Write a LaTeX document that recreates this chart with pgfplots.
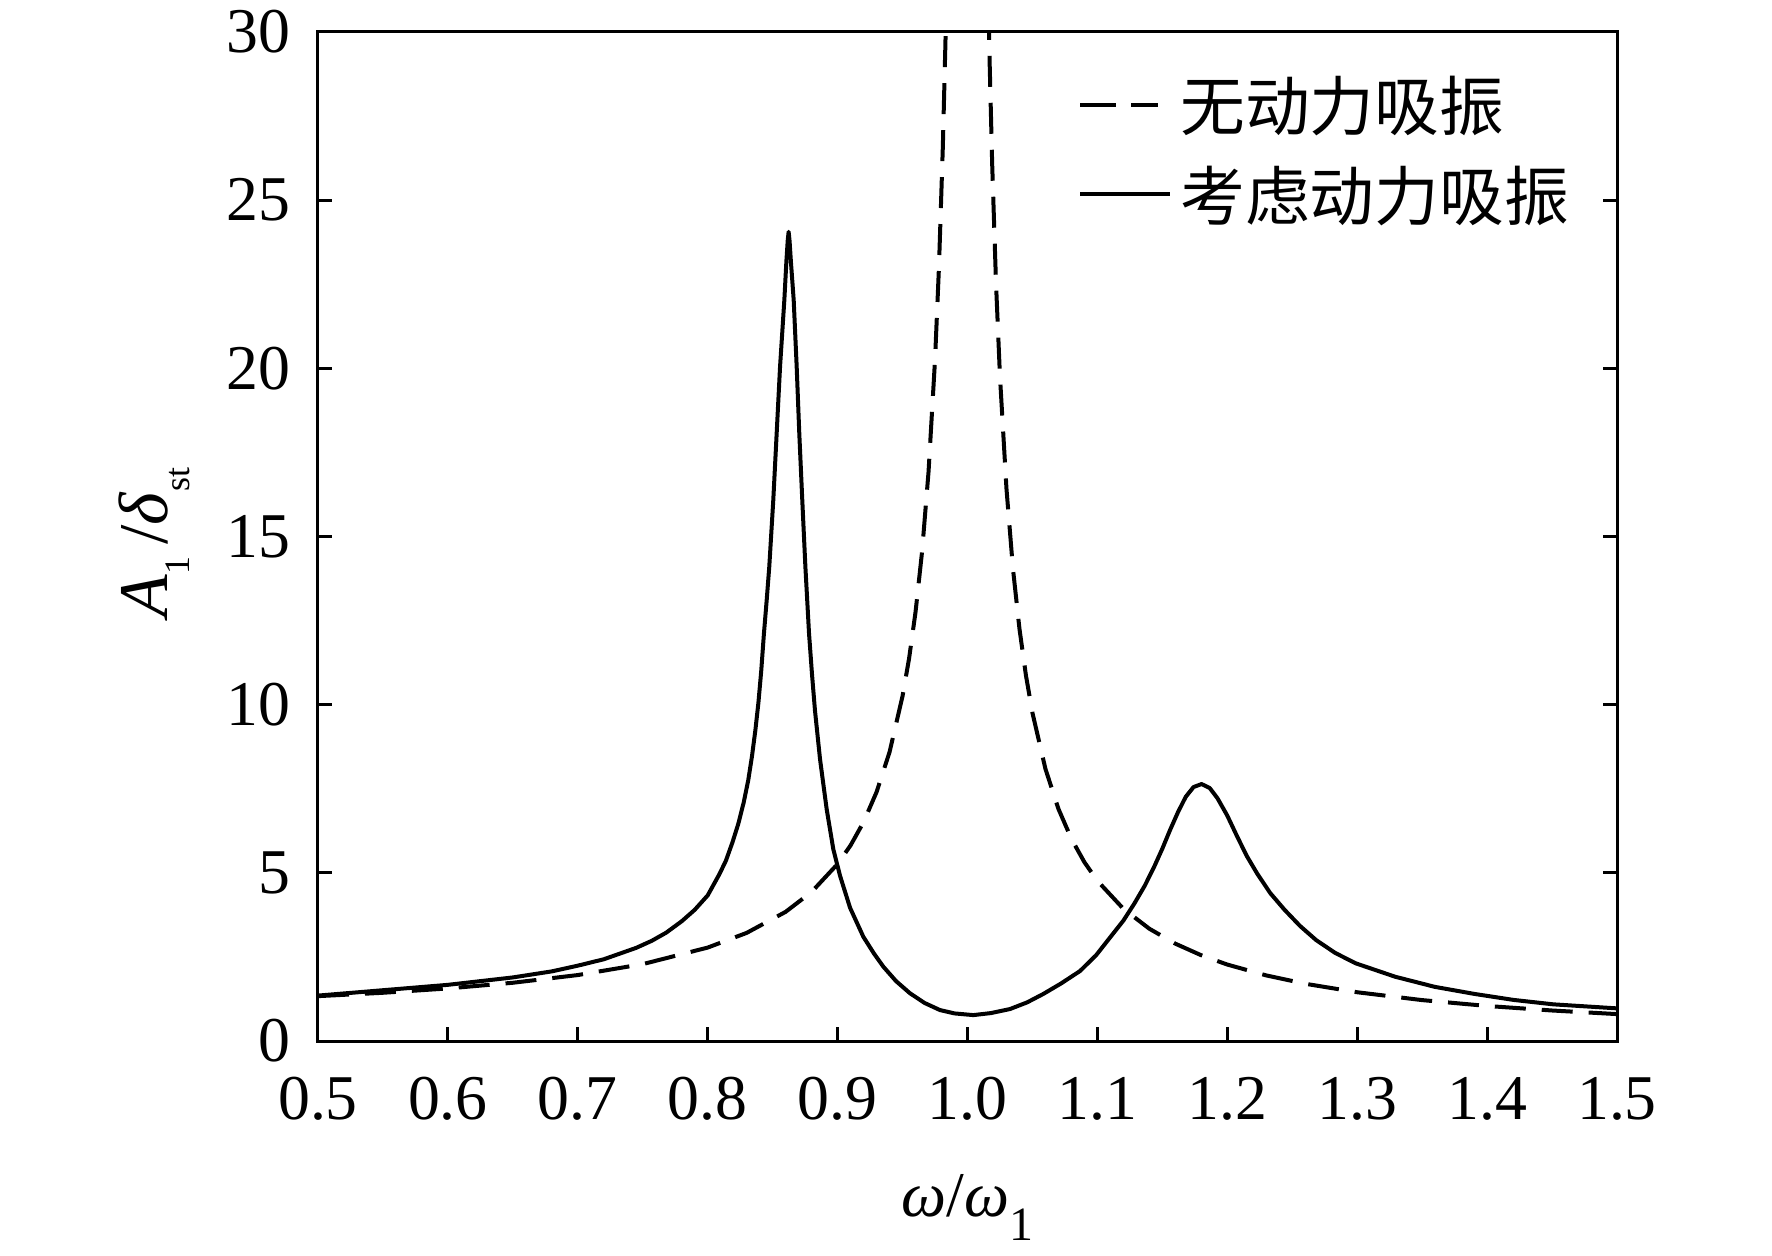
\documentclass[border=0pt]{standalone}
\usepackage{fontspec}
\setmainfont{Liberation Serif}
\newfontfamily\cjk{Noto Sans CJK SC}
\usepackage{pgfplots}
\pgfplotsset{compat=1.18}
\pgfplotsset{
  dashleg/.style={legend image code/.code={\draw[black,line width=2bp,dash pattern=on 18bp off 7.5bp] (0bp,0bp) -- (39bp,0bp);}},
  solidleg/.style={legend image code/.code={\draw[black,line width=2bp] (0bp,0bp) -- (45bp,0bp);}},
}
\begin{document}
\begin{tikzpicture}
\useasboundingbox (-159bp,-107.5bp) rectangle (727bp,520.5bp);
\begin{axis}[
  width=649.5bp, height=504.5bp, scale only axis,
  xmin=0.5, xmax=1.5, ymin=0, ymax=30,
  axis line style={line width=1.5bp},
  xtick={0.5,0.6,0.7,0.8,0.9,1.0,1.1,1.2,1.3,1.4,1.5},
  xticklabels={0.5,0.6,0.7,0.8,0.9,1.0,1.1,1.2,1.3,1.4,1.5},
  ytick={0,5,10,15,20,25,30},
  yticklabels={0,5,10,15,20,25,30},
  tick align=inside, xtick pos=bottom, ytick pos=both,
  major tick length=7bp,
  every tick/.style={black, line width=1.5bp},
  tick label style={font=\fontsize{32}{38}\selectfont},
  xticklabel style={anchor=north, inner sep=0pt, yshift=-18bp},
  yticklabel style={anchor=east, inner sep=0pt, xshift=-13.5bp},
  xlabel={\textit{ω}/\textit{ω}\raisebox{-12bp}{\fontsize{24}{26}\selectfont 1}},
  xlabel style={at={(axis description cs:0.5,0)}, anchor=base, yshift=-87.5bp, inner sep=0pt, font=\fontsize{32}{38}\selectfont},
  ylabel={\textit{A}\raisebox{-11bp}{\fontsize{18}{20}\selectfont 1}\,/\textit{δ}\raisebox{-11bp}{\fontsize{18}{20}\selectfont st}},
  ylabel style={at={(axis description cs:0,0.5)}, anchor=base, xshift=-3bp, yshift=75bp, inner sep=0pt, font=\fontsize{35}{41}\selectfont},
  legend style={at={(axis description cs:0.5851,0.9564)}, anchor=north west, draw=none, fill=none, inner sep=0pt, row sep=16bp, column sep=4bp, font=\cjk\fontsize{32.5}{34}\selectfont, nodes={inner sep=0pt}},
  legend cell align=left,
]
\addplot[black, line width=2bp, dash pattern=on 15.5bp off 8bp, line join=round, dashleg]
coordinates {
(0.50,1.3333)(0.55,1.4337)(0.60,1.5625)(0.65,1.7316)(0.70,1.9608)(0.75,2.2857)
(0.80,2.7778)(0.83,3.2144)(0.86,3.8402)(0.88,4.4326)(0.90,5.2632)(0.91,5.8173)
(0.92,6.5104)(0.93,7.4019)(0.94,8.5911)(0.95,10.2564)(0.955,11.3669)(0.96,12.7551)
(0.965,14.5402)(0.97,16.9205)(0.975,20.2532)(0.978,22.9800)(0.981,26.5682)
(0.983,29.6639)(0.984,31.5020)
(1.016,31.0020)(1.017,29.1638)(1.019,26.0681)(1.022,22.4800)(1.025,19.7531)
(1.03,16.4204)(1.035,14.0400)(1.04,12.2549)(1.045,10.8666)(1.05,9.7561)
(1.06,8.0906)(1.07,6.9013)(1.08,6.0096)(1.09,5.3163)(1.10,4.7619)(1.12,3.9308)
(1.14,3.3378)(1.16,2.8935)(1.18,2.5484)(1.20,2.2727)(1.23,1.9497)(1.26,1.7018)
(1.30,1.4493)(1.35,1.2158)(1.40,1.0417)(1.45,0.9070)(1.50,0.8000)
};
\addlegendentry{无动力吸振}
\addplot[black, line width=2bp, line join=round, solidleg]
coordinates {
(0.500,1.35)(0.550,1.51)(0.600,1.67)(0.650,1.89)(0.680,2.07)(0.700,2.24)
(0.720,2.43)(0.745,2.77)(0.757,2.98)(0.768,3.22)(0.780,3.56)(0.790,3.90)
(0.800,4.33)(0.809,4.96)(0.8140,5.36)(0.8190,5.90)(0.8235,6.45)(0.8277,7.09)
(0.8312,7.75)(0.8341,8.47)(0.8367,9.24)(0.8390,10.04)(0.8412,11.00)(0.8433,12.12)
(0.8454,13.10)(0.8474,14.10)(0.8505,16.09)(0.8531,18.07)(0.8557,20.05)(0.8590,22.03)
(0.8606,23.20)(0.8616,23.80)(0.8623,24.06)(0.8630,23.80)(0.8640,23.20)(0.8662,22.03)
(0.8685,20.05)(0.8705,18.07)(0.8728,16.09)(0.8752,14.10)(0.8780,12.12)(0.8803,10.90)
(0.8826,9.82)(0.8865,8.37)(0.8916,6.89)(0.8967,5.70)(0.9019,4.91)(0.9096,3.96)
(0.9198,3.10)(0.9280,2.60)(0.9352,2.21)(0.9450,1.78)(0.9557,1.42)(0.9670,1.13)
(0.9788,0.92)(0.9900,0.82)(1.0045,0.77)(1.0180,0.83)(1.0327,0.95)(1.0460,1.15)
(1.0584,1.40)(1.0720,1.71)(1.0866,2.08)(1.0990,2.55)(1.1102,3.10)(1.1200,3.58)
(1.1285,4.09)(1.1365,4.62)(1.1437,5.18)(1.1500,5.72)(1.1559,6.27)(1.1620,6.80)
(1.1680,7.26)(1.1740,7.55)(1.1802,7.64)(1.1865,7.52)(1.1924,7.22)(1.2000,6.70)
(1.2076,6.08)(1.2150,5.50)(1.2228,4.99)(1.2330,4.40)(1.2441,3.90)(1.2560,3.42)
(1.2684,3.00)(1.2830,2.62)(1.2988,2.31)(1.3293,1.91)(1.3597,1.61)(1.3902,1.40)
(1.4206,1.22)(1.4510,1.09)(1.5000,0.97)
};
\addlegendentry{考虑动力吸振}
\end{axis}
\end{tikzpicture}
\end{document}
